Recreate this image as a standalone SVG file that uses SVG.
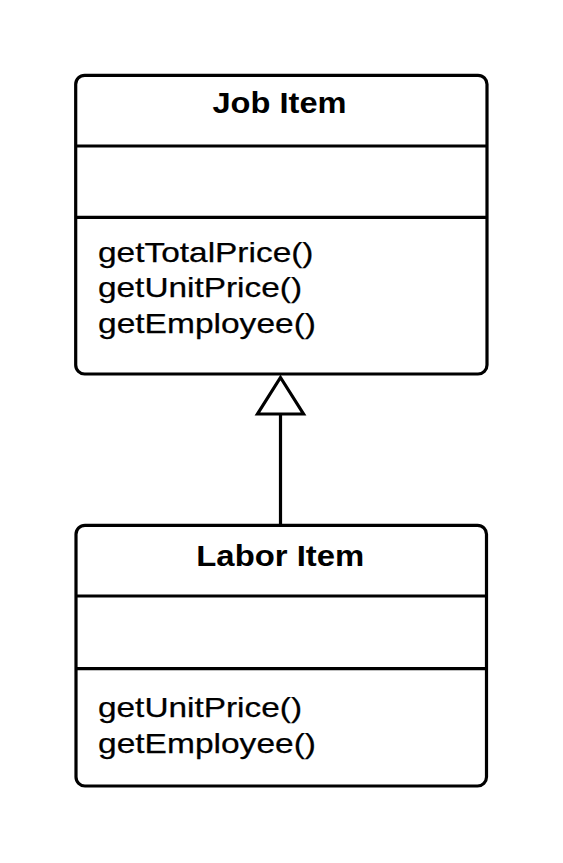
<svg xmlns="http://www.w3.org/2000/svg" width="563" height="863" viewBox="0 0 563 863">
<style>
.box{fill:#ffffff;stroke:#000000;stroke-width:3.2}
.div{stroke:#000000;stroke-width:3.2;fill:none}
.title{font-family:"Liberation Sans",Arial,sans-serif;font-weight:bold;font-size:29px;fill:#000000;text-anchor:middle}
.op{font-family:"Liberation Sans",Arial,sans-serif;font-size:28.5px;fill:#000000;stroke:#000000;stroke-width:0.25}
.edge{stroke:#000000;stroke-width:3.2;fill:none}
.head{stroke:#000000;stroke-width:3.2;fill:#ffffff;stroke-linejoin:miter}
</style>
<rect width="563" height="863" fill="#ffffff"/>
<g id="job-item">
<rect class="box" x="75.7" y="75.3" width="411.3" height="298.7" rx="9" ry="9"/>
<line class="div" x1="75.7" y1="146" x2="487" y2="146"/>
<line class="div" x1="75.7" y1="217.3" x2="487" y2="217.3"/>
<text class="title" x="279.5" y="113" textLength="134" lengthAdjust="spacingAndGlyphs">Job Item</text>
<text class="op" x="98" y="261.5" textLength="215.5" lengthAdjust="spacingAndGlyphs">getTotalPrice()</text>
<text class="op" x="98" y="297" textLength="204" lengthAdjust="spacingAndGlyphs">getUnitPrice()</text>
<text class="op" x="98" y="332.5" textLength="218" lengthAdjust="spacingAndGlyphs">getEmployee()</text>
</g>
<g id="labor-item">
<rect class="box" x="76" y="525.3" width="410.5" height="260.7" rx="9" ry="9"/>
<line class="div" x1="76" y1="596" x2="486.5" y2="596"/>
<line class="div" x1="76" y1="668.7" x2="486.5" y2="668.7"/>
<text class="title" x="280.3" y="565.5" textLength="168" lengthAdjust="spacingAndGlyphs">Labor Item</text>
<text class="op" x="98" y="717" textLength="204" lengthAdjust="spacingAndGlyphs">getUnitPrice()</text>
<text class="op" x="98" y="752.5" textLength="218" lengthAdjust="spacingAndGlyphs">getEmployee()</text>
</g>
<g id="connectors">
<line class="edge" x1="280.5" y1="414" x2="280.5" y2="525.3"/>
<polygon class="head" points="280.5,377.5 303.5,414 257.5,414"/>
</g>
</svg>
